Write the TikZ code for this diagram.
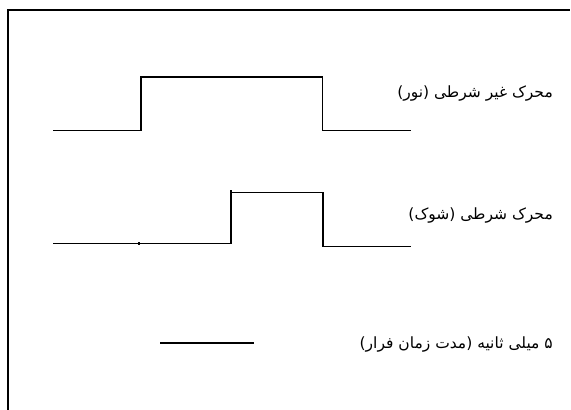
\documentclass[tikz,border=0pt]{standalone}
\usepackage{fontspec}
\newfontfamily\arabicfont[Script=Arabic]{DejaVu Sans}
\TeXXeTstate=1
\begin{document}
\begin{tikzpicture}[x=1pt,y=-1pt,
  wave/.style={line width=1.2pt},
  frame/.style={line width=1.6pt},
  lbl/.style={anchor=east, font=\arabicfont\fontsize{15.5}{18}\selectfont, inner sep=0pt}]
\useasboundingbox (0,0) rectangle (571,410);
% frame
\coordinate (fb) at (8,410);
\coordinate (ftl) at (8,10);
\coordinate (ftr) at (570,10);
\draw[frame] (fb) -- (ftl) -- (ftr);
% waveform 1 (unconditioned stimulus)
\coordinate (a0) at (53,130.5);
\coordinate (a1) at (141,130.5);
\coordinate (a2) at (141,77);
\coordinate (a3) at (322.5,77);
\coordinate (a4) at (322.5,130.5);
\coordinate (a5) at (411,130.5);
\draw[wave] (a0) -- (a1) -- (a2) -- (a3) -- (a4) -- (a5);
% waveform 2 (conditioned stimulus)
\coordinate (b0) at (53,243.5);
\coordinate (b1) at (231,243.5);
\coordinate (b2) at (231,192.5);
\coordinate (b3) at (323,192.5);
\coordinate (b4) at (323,246.5);
\coordinate (b5) at (411,246.5);
\draw[wave] (b0) -- (b1) -- (b2) -- (b3) -- (b4) -- (b5);
\coordinate (t1a) at (139,242);
\coordinate (t1b) at (139,245);
\draw[line width=2pt] (t1a) -- (t1b);
\coordinate (t2) at (231,190);
\draw[wave] (b2) -- (t2);
% scale bar
\coordinate (s0) at (160,343);
\coordinate (s1) at (254,343);
\draw[wave] (s0) -- (s1);
% labels
\node[lbl] (l1) at (553,94) {\beginR محرک غیر شرطی (نور)\endR};
\node[lbl] (l2) at (553,216) {\beginR محرک شرطی (شوک)\endR};
\node[lbl] (l3) at (553,344) {\beginR ۵ میلی ثانیه (مدت زمان فرار)\endR};
\end{tikzpicture}
\end{document}
